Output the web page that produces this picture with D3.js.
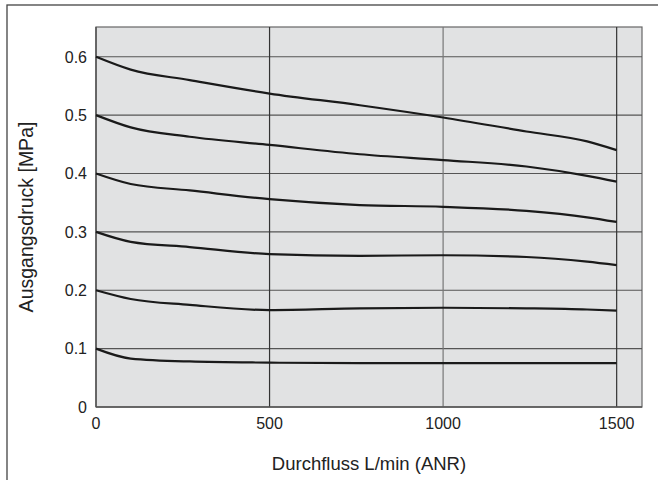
<!DOCTYPE html>
<html><head><meta charset="utf-8">
<script src="https://cdn.jsdelivr.net/npm/d3@7/dist/d3.min.js"></script>
<style>body{margin:0;background:#fff}svg{display:block}text{font-family:"Liberation Sans",Arial,sans-serif;fill:#222}</style>
</head><body><svg id="c" width="658" height="480"></svg>
<script>
const flow = [0, 100, 270, 500, 760, 1000, 1240, 1415, 1500];
const s06 = [0.6, 0.578, 0.560, 0.537, 0.517, 0.496, 0.472, 0.455, 0.440];
const s05 = [0.5, 0.479, 0.463, 0.449, 0.433, 0.423, 0.412, 0.396, 0.386];
const s04 = [0.4, 0.382, 0.371, 0.356, 0.346, 0.343, 0.336, 0.325, 0.317];
const s03 = [0.3, 0.283, 0.274, 0.262, 0.259, 0.260, 0.257, 0.249, 0.243];
const s02 = [0.2, 0.185, 0.175, 0.166, 0.169, 0.170, 0.169, 0.167, 0.165];
const s01 = [0.1, 0.083, 0.078, 0.076, 0.075, 0.075, 0.075, 0.075, 0.075];
const xTicks = [0, 500, 1000, 1500];
const yTicks = [0, 0.1, 0.2, 0.3, 0.4, 0.5, 0.6];
const xTitle = "Durchfluss L/min (ANR)";
const yTitle = "Ausgangsdruck [MPa]";

const svg = d3.select("#c");
const L = 96, R = 642, T = 27, B = 407;
const x = d3.scaleLinear().domain([0, 1573]).range([L, R]);
const y = d3.scaleLinear().domain([0, 0.651]).range([B, T]);

// outer frame
svg.append("rect").attr("x", 7).attr("y", 5).attr("width", 700).attr("height", 500)
  .attr("fill", "none").attr("stroke", "#444").attr("stroke-width", 1.3);

// plot background
svg.append("rect").attr("x", L).attr("y", T).attr("width", R - L).attr("height", B - T)
  .attr("fill", "#e1e2e3").attr("stroke", "#666").attr("stroke-width", 1.2);

// grid
const g = svg.append("g");
yTicks.filter(d => d > 0).forEach(d => {
  g.append("line").attr("x1", L).attr("x2", R).attr("y1", y(d)).attr("y2", y(d))
    .attr("stroke", "#555").attr("stroke-width", 1.1);
});
xTicks.filter(d => d > 0).forEach(d => {
  g.append("line").attr("y1", T).attr("y2", B).attr("x1", x(d)).attr("x2", x(d))
    .attr("stroke", d === 1000 ? "#777" : "#333").attr("stroke-width", 1.2);
});
// axis lines
svg.append("line").attr("x1", L).attr("x2", L).attr("y1", T).attr("y2", B).attr("stroke", "#555").attr("stroke-width", 1.5);
svg.append("line").attr("x1", L).attr("x2", R).attr("y1", B).attr("y2", B).attr("stroke", "#555").attr("stroke-width", 1.5);

// tick labels
svg.selectAll(".xt").data(xTicks).join("text").attr("class", "xt")
  .attr("x", d => x(d)).attr("y", B + 22).attr("text-anchor", "middle")
  .attr("font-size", 16).text(d => d);
svg.selectAll(".yt").data(yTicks).join("text").attr("class", "yt")
  .attr("x", L - 9).attr("y", d => y(d) + 5.8).attr("text-anchor", "end")
  .attr("font-size", 16).text(d => d === 0 ? "0" : d.toFixed(1));

// titles
svg.append("text").attr("x", (L + R) / 2).attr("y", 470).attr("text-anchor", "middle")
  .attr("font-size", 18.5).text(xTitle);
svg.append("text").attr("transform", `translate(33,${(T + B) / 2}) rotate(-90)`)
  .attr("text-anchor", "middle").attr("font-size", 19.5).text(yTitle);

// curves
const series = [s06, s05, s04, s03, s02, s01];
const line = d3.line().x(d => x(d[0])).y(d => y(d[1])).curve(d3.curveMonotoneX);
series.forEach(s => {
  svg.append("path").attr("d", line(flow.map((f, i) => [f, s[i]])))
    .attr("fill", "none").attr("stroke", "#1a1a1a").attr("stroke-width", 2.2);
});
</script></body></html>
